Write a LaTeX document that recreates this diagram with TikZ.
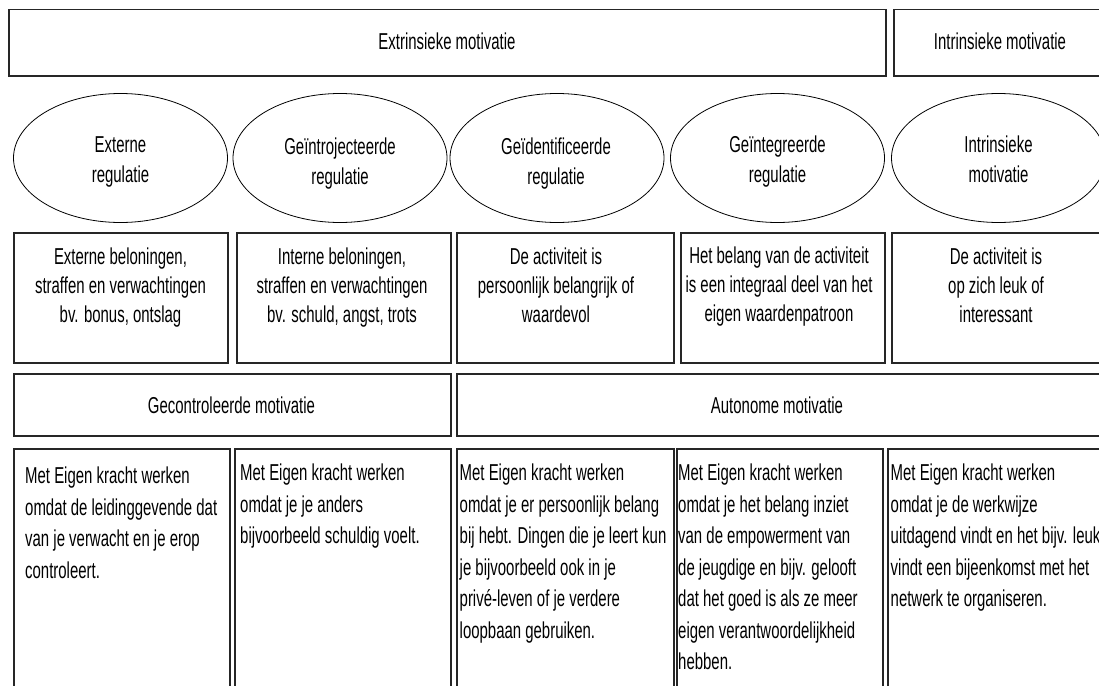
\documentclass[tikz,border=0pt]{standalone}
\usepackage{fontspec}
\setmainfont{Liberation Sans}[FakeStretch=0.65]
\usetikzlibrary{shapes.geometric}
\begin{document}
\begin{tikzpicture}[x=1pt,y=-1pt,
  box/.style={draw=black!85, line width=1.5pt, inner sep=0pt, anchor=north west},
  oval/.style={ellipse, draw=black, line width=0.8pt, minimum width=214pt, minimum height=129pt, inner sep=0pt},
  lbl/.style={font=\fontsize{23}{29.5}\selectfont, inner sep=0pt, align=center, text=black},
  midtxt/.style={font=\fontsize{23}{29}\selectfont, inner sep=0pt, align=center, text=black, anchor=north},
  bodytxt/.style={font=\fontsize{23}{31.5}\selectfont, inner sep=0pt, align=left, text=black, anchor=north west}
]
\useasboundingbox (0,0) rectangle (1099,685);
\fill[white] (0,0) rectangle (1099,685);

% top row
\node[box, minimum width=877pt, minimum height=66pt] (ext) at (8,9) {};
\node[box, minimum width=213pt, minimum height=66pt] (int) at (893,9) {};
\node[lbl, anchor=base] (extT) at (447,50) {Extrinsieke motivatie};
\node[lbl, anchor=base] (intT) at (1000,50) {Intrinsieke motivatie};

% ellipses
\node[oval] (e1) at (120.5,158) {};
\node[oval] (e2) at (340,158) {};
\node[oval] (e3) at (557,158) {};
\node[oval] (e4) at (777.5,158) {};
\node[oval] (e5) at (998.5,158) {};
\node[lbl, anchor=north] (e1T) at (120.5,135) {\rule{0pt}{17.5pt}Externe\\regulatie};
\node[lbl, anchor=north] (e2T) at (340,137) {\rule{0pt}{17.5pt}Geïntrojecteerde\\regulatie};
\node[lbl, anchor=north] (e3T) at (556,137) {\rule{0pt}{17.5pt}Geïdentificeerde\\regulatie};
\node[lbl, anchor=north] (e4T) at (777.5,135) {\rule{0pt}{17.5pt}Geïntegreerde\\regulatie};
\node[lbl, anchor=north] (e5T) at (998.5,135) {\rule{0pt}{17.5pt}Intrinsieke\\motivatie};

% middle boxes
\node[box, minimum width=214pt, minimum height=130pt] (m1) at (13,232) {};
\node[box, minimum width=214pt, minimum height=130pt] (m2) at (236,232) {};
\node[box, minimum width=217pt, minimum height=130pt] (m3) at (456,232) {};
\node[box, minimum width=204pt, minimum height=130pt] (m4) at (680,232) {};
\node[box, minimum width=215pt, minimum height=130pt] (m5) at (891,232) {};
\node[midtxt] (m1T) at (120.5,247) {\rule{0pt}{17.5pt}Externe beloningen,\\straffen en verwachtingen\\bv. bonus, ontslag};
\node[midtxt] (m2T) at (342,247) {\rule{0pt}{17.5pt}Interne beloningen,\\straffen en verwachtingen\\bv. schuld, angst, trots};
\node[midtxt] (m3T) at (556,247) {\rule{0pt}{17.5pt}De activiteit is\\persoonlijk belangrijk of\\waardevol};
\node[midtxt] (m4T) at (779,246) {\rule{0pt}{17.5pt}Het belang van de activiteit\\is een integraal deel van het\\eigen waardenpatroon};
\node[midtxt] (m5T) at (996,247) {\rule{0pt}{17.5pt}De activiteit is\\op zich leuk of\\interessant};

% category row
\node[box, minimum width=437pt, minimum height=62pt] (gec) at (13,373) {};
\node[box, minimum width=644pt, minimum height=62pt] (aut) at (456,373) {};
\node[lbl, anchor=base] (gecT) at (231.5,413) {Gecontroleerde motivatie};
\node[lbl, anchor=base] (autT) at (777,413) {Autonome motivatie};

% bottom boxes
\node[box, minimum width=216pt, minimum height=260pt] (b1) at (13,448) {};
\node[box, minimum width=216pt, minimum height=260pt] (b2) at (234,448) {};
\node[box, minimum width=217pt, minimum height=260pt] (b3) at (456,448) {};
\node[box, minimum width=206pt, minimum height=260pt] (b4) at (676,448) {};
\node[box, minimum width=223pt, minimum height=260pt] (b5) at (887,448) {};
\node[bodytxt] (b1T) at (25,466) {\rule{0pt}{17.5pt}Met Eigen kracht werken\\omdat de leidinggevende dat\\van je verwacht en je erop\\controleert.};
\node[bodytxt] (b2T) at (240,463) {\rule{0pt}{17.5pt}Met Eigen kracht werken\\omdat je je anders\\bijvoorbeeld schuldig voelt.};
\node[bodytxt] (b3T) at (459.5,463) {\rule{0pt}{17.5pt}Met Eigen kracht werken\\omdat je er persoonlijk belang\\bij hebt. Dingen die je leert kun\\je bijvoorbeeld ook in je\\privé-leven of je verdere\\loopbaan gebruiken.};
\node[bodytxt] (b4T) at (678,463) {\rule{0pt}{17.5pt}Met Eigen kracht werken\\omdat je het belang inziet\\van de empowerment van\\de jeugdige en bijv. gelooft\\dat het goed is als ze meer\\eigen verantwoordelijkheid\\hebben.};
\node[bodytxt] (b5T) at (890.5,463) {\rule{0pt}{17.5pt}Met Eigen kracht werken\\omdat je de werkwijze\\uitdagend vindt en het bijv. leuk\\vindt een bijeenkomst met het\\netwerk te organiseren.};
\end{tikzpicture}
\end{document}
